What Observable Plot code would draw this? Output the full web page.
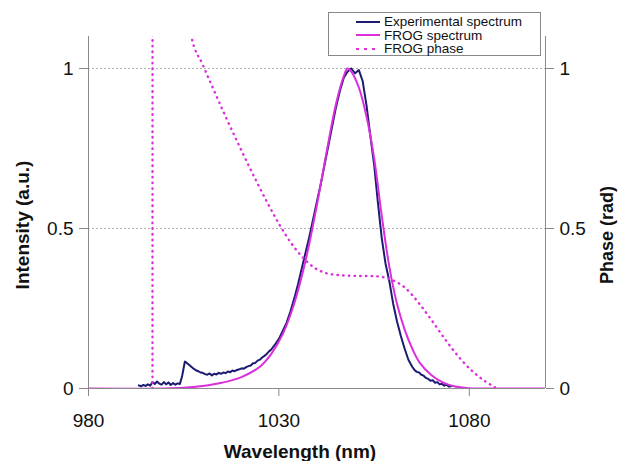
<!DOCTYPE html>
<html>
<head>
<meta charset="utf-8">
<script src="https://cdn.jsdelivr.net/npm/d3@7"></script>
<script src="https://cdn.jsdelivr.net/npm/@observablehq/plot@0.6"></script>
<style>
  body { margin: 0; background: #fff; font-family: "Liberation Sans", Arial, sans-serif; }
  #wrap { position: relative; width: 620px; height: 461px; overflow: hidden; }
  #legend { position: absolute; left: 328px; top: 12px; width: 211px; height: 42px; border: 1px solid #888; background: #fff; font-size: 13.5px; line-height: 13.5px; color: #111; }
  #legend .row { position: absolute; left: 27px; display: flex; align-items: center; white-space: nowrap; }
  #legend svg { margin-right: 4px; }
</style>
</head>
<body>
<div id="wrap"></div>
<script>
// ---- data ----
const expWavelength = [993.2,993.8,994.4,995,995.6,996.2,996.8,997.4,998,998.6,999.2,999.8,1000.4,1001,1001.6,1002.2,1002.8,1003.4,1004,1004.6,1005.3,1005.8,1006.4,1007,1007.6,1008.2,1008.8,1009.4,1010,1010.6,1011.2,1011.8,1012.4,1013,1013.6,1014.2,1014.8,1015.4,1016,1016.6,1017.2,1017.8,1018.4,1019,1019.6,1020.2,1020.8,1021.4,1022,1022.6,1023.2,1023.8,1024.4,1025,1025.6,1026.2,1026.8,1027.4,1028,1028.6,1029.2,1030,1031,1032,1033,1034,1035,1036,1037,1038,1039,1040,1041,1042,1043,1044,1045,1046,1047,1048,1049,1050,1051,1052,1053,1054,1055,1056,1057,1058,1059,1060,1061,1062,1063,1064,1065,1065.6,1066.2,1066.8,1067.4,1068,1068.6,1069.2,1069.8,1070.4,1071,1071.6,1072.2,1072.8,1073.4,1074,1074.6,1075.2];
const expIntensity  = [0.01,0.007,0.011,0.008,0.013,0.009,0.02,0.014,0.022,0.015,0.012,0.02,0.013,0.019,0.011,0.017,0.012,0.016,0.014,0.04,0.084,0.08,0.074,0.068,0.062,0.057,0.054,0.05,0.049,0.045,0.043,0.047,0.041,0.046,0.044,0.049,0.046,0.05,0.048,0.053,0.051,0.056,0.054,0.058,0.06,0.063,0.062,0.067,0.07,0.072,0.079,0.08,0.087,0.09,0.097,0.102,0.108,0.116,0.122,0.132,0.141,0.155,0.18,0.205,0.24,0.28,0.325,0.375,0.425,0.475,0.53,0.585,0.64,0.7,0.76,0.82,0.88,0.93,0.97,0.99,1.0,0.985,0.995,0.96,0.885,0.79,0.7,0.58,0.47,0.39,0.335,0.265,0.21,0.165,0.125,0.09,0.068,0.058,0.052,0.05,0.043,0.04,0.033,0.03,0.024,0.026,0.018,0.02,0.013,0.015,0.009,0.012,0.006,0.007,0.004];

const frogWavelength = [980,1000,1005,1010,1015,1020,1025,1028,1031,1034,1037,1040,1043,1045,1047,1048,1049,1051,1053,1055,1057,1059,1061,1063,1065,1067,1070,1073,1076,1080,1085,1100];
const frogIntensity  = [0,0,0.002,0.008,0.018,0.035,0.068,0.108,0.17,0.265,0.4,0.575,0.77,0.89,0.975,1.0,0.99,0.94,0.85,0.72,0.54,0.38,0.265,0.185,0.125,0.08,0.042,0.019,0.007,0.001,0,0];

const phaseWavelength = [996.8,996.85,1002,1005,1007.1,1010,1013,1016,1020,1024,1027,1030,1033,1036,1039,1042,1046,1050,1055,1058,1061,1063,1065,1067,1070,1074,1078,1081,1084,1086.7];
const phaseValue      = [0,3.0,1.6,1.25,1.096,1.012,0.93,0.85,0.748,0.65,0.58,0.515,0.458,0.413,0.38,0.362,0.354,0.352,0.351,0.346,0.332,0.316,0.292,0.263,0.215,0.148,0.088,0.052,0.024,0.004];

const xTicks = [980, 1030, 1080];
const yTicks = [0, 0.5, 1];
const gridTicks = [0.5, 1];

const navy = "#1b1b72";
const magenta = "#dc2edc";

const expData = expWavelength.map((w, i) => ({w, v: expIntensity[i]}));
const frogData = frogWavelength.map((w, i) => ({w, v: frogIntensity[i]}));
const phaseData = phaseWavelength.map((w, i) => ({w, v: phaseValue[i]}));

const fmt = d => String(d);

const chart = Plot.plot({
  width: 620,
  height: 461,
  marginLeft: 88,
  marginRight: 75,
  marginTop: 36,
  marginBottom: 73,
  style: {fontFamily: "'Liberation Sans', Arial, sans-serif", background: "transparent"},
  x: {domain: [980, 1100]},
  y: {domain: [0, 1.1]},
  marks: [
    Plot.gridY(gridTicks, {stroke: "#b0b0b0", strokeOpacity: 1, strokeDasharray: "2,2"}),
    Plot.ruleX([980, 1100], {stroke: "#8a8a8a"}),
    Plot.ruleY([0], {stroke: "#8a8a8a"}),
    Plot.axisX({ticks: xTicks, tickFormat: fmt, tickSize: 8, tickPadding: 17, fontSize: 19, label: null, stroke: "#8a8a8a", fill: "#111"}),
    Plot.axisY({anchor: "left", ticks: yTicks, tickFormat: fmt, tickSize: 9, tickPadding: 6, fontSize: 19, label: null, stroke: "#8a8a8a", fill: "#111"}),
    Plot.axisY({anchor: "right", ticks: yTicks, tickFormat: fmt, tickSize: 8, tickPadding: 6, fontSize: 19, label: null, stroke: "#8a8a8a", fill: "#111"}),
    Plot.line(expData, {x: "w", y: "v", stroke: navy, strokeWidth: 2, clip: true}),
    Plot.line(frogData, {x: "w", y: "v", stroke: magenta, strokeWidth: 2, clip: true, curve: "catmull-rom"}),
    Plot.line(phaseData, {x: "w", y: "v", stroke: magenta, strokeWidth: 2.4, strokeDasharray: "0.5,5.2", strokeLinecap: "round", clip: true, curve: "monotone-x"})
  ]
});

const wrap = document.getElementById("wrap");
wrap.appendChild(chart);

const svg = d3.select(chart);
svg.append("text")
  .attr("x", 300).attr("y", 458)
  .attr("text-anchor", "middle")
  .attr("font-size", 19).attr("font-weight", "bold").attr("fill", "#111")
  .text("Wavelength (nm)");
svg.append("text")
  .attr("transform", "translate(24,225) rotate(-90)")
  .attr("text-anchor", "middle").attr("dominant-baseline", "middle")
  .attr("font-size", 19).attr("font-weight", "bold").attr("fill", "#111")
  .text("Intensity (a.u.)");
svg.append("text")
  .attr("transform", "translate(608,235) rotate(-90)")
  .attr("text-anchor", "middle").attr("dominant-baseline", "middle")
  .attr("font-size", 18).attr("font-weight", "bold").attr("fill", "#111")
  .text("Phase (rad)");

// legend
const legendItems = [
  {label: "Experimental spectrum", color: navy, dash: null},
  {label: "FROG spectrum", color: magenta, dash: null},
  {label: "FROG phase", color: magenta, dash: "3,5"}
];
const legend = document.createElement("div");
legend.id = "legend";
legendItems.forEach((it, i) => {
  const row = document.createElement("div");
  row.className = "row";
  row.style.top = (2 + i * 13.5) + "px";
  row.innerHTML = `<svg width="24" height="8"><line x1="0" x2="24" y1="4" y2="4" stroke="${it.color}" stroke-width="2" ${it.dash ? `stroke-dasharray="${it.dash}"` : ""}/></svg><span>${it.label}</span>`;
  legend.appendChild(row);
});
wrap.appendChild(legend);
</script>
</body>
</html>
